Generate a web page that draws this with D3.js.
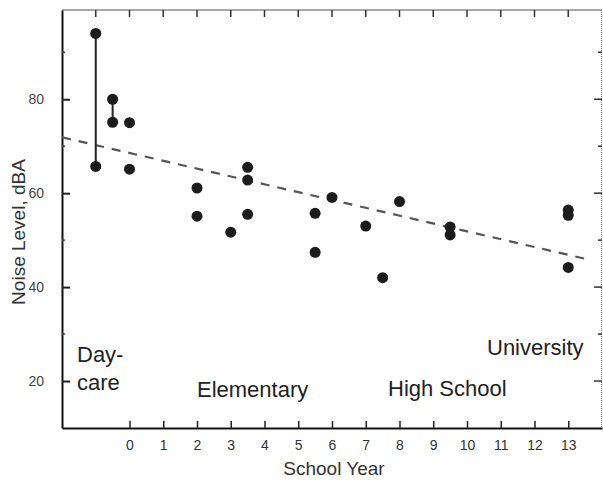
<!DOCTYPE html>
<html>
<head>
<meta charset="utf-8">
<script src="https://cdn.jsdelivr.net/npm/d3@7"></script>
<style>
body { margin: 0; background: #fff; }
text { font-family: "Liberation Sans", Arial, sans-serif; }
</style>
</head>
<body>
<div id="chart"></div>
<script>
// school year (-1 = daycare) and measured noise level in dBA
var years = [-1, -1, -0.5, -0.5, 0, 0, 2, 2, 3, 3.5, 3.5, 3.5, 5.5, 5.5, 6, 7, 7.5, 8, 9.5, 9.5, 13, 13, 13];
var noise = [94, 65.7, 80, 75.1, 75, 65.1, 61.1, 55.1, 51.7, 65.5, 62.8, 55.5, 55.7, 47.4, 59.1, 53, 42, 58.2, 52.8, 51.1, 56.4, 55.3, 44.2];

// vertical range bars
var rangeYears = [-1, -0.5];
var rangeLow = [65.7, 75.1];
var rangeHigh = [94, 80];

// regression line end points
var trendYears = [-2, 13.7];
var trendNoise = [71.9, 45.7];

var xTicks = [0, 1, 2, 3, 4, 5, 6, 7, 8, 9, 10, 11, 12, 13];
var topTicks = [-1, 0, 1, 2, 3, 4, 5, 6, 7, 8, 9, 10, 11, 12, 13];
var yTicks = [20, 40, 60, 80];
var yMinor = [30, 50, 70, 90];

var W = 603, H = 481;
var svg = d3.select("#chart").append("svg")
	.attr("width", W)
	.attr("height", H);

var x = d3.scaleLinear().domain([-2, 14]).range([62, 602]);
var y = d3.scaleLinear().domain([10, 99]).range([428, 10]);

// frame: top and right thin
svg.append("line").attr("x1", 62).attr("x2", 602).attr("y1", 10).attr("y2", 10)
	.attr("stroke", "#555").attr("stroke-width", 1.2);
svg.append("line").attr("x1", 601.5).attr("x2", 601.5).attr("y1", 10).attr("y2", 428)
	.attr("stroke", "#777").attr("stroke-width", 1).attr("stroke-dasharray", "1,1");

// top ticks
svg.append("g").selectAll("line").data(topTicks).enter().append("line")
	.attr("x1", function(d) { return x(d); })
	.attr("x2", function(d) { return x(d); })
	.attr("y1", 10).attr("y2", 17)
	.attr("stroke", "#333").attr("stroke-width", 1.5);

// right ticks
svg.append("g").selectAll("line").data(yTicks.concat(yMinor)).enter().append("line")
	.attr("x1", 602)
	.attr("x2", function(d) { return yTicks.indexOf(d) >= 0 ? 594 : 598; })
	.attr("y1", function(d) { return y(d); })
	.attr("y2", function(d) { return y(d); })
	.attr("stroke", "#333").attr("stroke-width", 1.5);

// bottom axis
var xAxis = d3.axisBottom(x).tickValues(xTicks).tickSizeInner(-7).tickSizeOuter(0).tickPadding(12);
var gx = svg.append("g").attr("transform", "translate(0,428)").call(xAxis);
gx.select(".domain").attr("stroke", "#111").attr("stroke-width", 2);
gx.selectAll(".tick line").attr("stroke", "#222").attr("stroke-width", 1.5);
gx.selectAll(".tick text").attr("font-size", 14).attr("fill", "#333")
	.attr("font-family", "Liberation Sans, Arial, sans-serif");

// left axis
var yAxis = d3.axisLeft(y).tickValues(yTicks).tickSizeInner(-8).tickSizeOuter(0).tickPadding(18);
var gy = svg.append("g").attr("transform", "translate(62,0)").call(yAxis);
gy.select(".domain").attr("stroke", "#111").attr("stroke-width", 2);
gy.selectAll(".tick line").attr("stroke", "#222").attr("stroke-width", 2);
gy.selectAll(".tick text").attr("font-size", 14).attr("fill", "#444")
	.attr("font-family", "Liberation Sans, Arial, sans-serif");
gy.selectAll(".minor").data(yMinor).enter().append("line")
	.attr("class", "minor")
	.attr("x1", 0).attr("x2", 3)
	.attr("y1", function(d) { return y(d); })
	.attr("y2", function(d) { return y(d); })
	.attr("stroke", "#444").attr("stroke-width", 1.5);

// regression line
var line = d3.line()
	.x(function(d) { return x(d[0]); })
	.y(function(d) { return y(d[1]); });
svg.append("path")
	.datum(d3.zip(trendYears, trendNoise))
	.attr("d", line)
	.attr("fill", "none")
	.attr("stroke", "#555")
	.attr("stroke-width", 2.2)
	.attr("stroke-dasharray", "9,8");

// range bars
svg.append("g").selectAll("line").data(d3.zip(rangeYears, rangeLow, rangeHigh)).enter().append("line")
	.attr("x1", function(d) { return x(d[0]); })
	.attr("x2", function(d) { return x(d[0]); })
	.attr("y1", function(d) { return y(d[1]); })
	.attr("y2", function(d) { return y(d[2]); })
	.attr("stroke", "#222").attr("stroke-width", 2);

// points
svg.append("g").selectAll("circle").data(d3.zip(years, noise)).enter().append("circle")
	.attr("cx", function(d) { return x(d[0]); })
	.attr("cy", function(d) { return y(d[1]); })
	.attr("r", 5.5)
	.attr("fill", "#1c1c1c");

// axis titles
svg.append("text")
	.attr("x", 334).attr("y", 475)
	.attr("text-anchor", "middle")
	.attr("font-size", 19).attr("fill", "#333")
	.text("School Year");
svg.append("text")
	.attr("transform", "translate(25,232) rotate(-90)")
	.attr("text-anchor", "middle")
	.attr("font-size", 19).attr("fill", "#333")
	.text("Noise Level, dBA");

// stage labels
var stages = [
	{ t: "Day-", x: 77, y: 362 },
	{ t: "care", x: 77, y: 390 },
	{ t: "Elementary", x: 197, y: 397 },
	{ t: "High School", x: 388, y: 396 },
	{ t: "University", x: 487, y: 355 }
];
svg.append("g").selectAll("text").data(stages).enter().append("text")
	.attr("x", function(d) { return d.x; })
	.attr("y", function(d) { return d.y; })
	.attr("font-size", 22).attr("fill", "#222")
	.text(function(d) { return d.t; });
</script>
</body>
</html>
